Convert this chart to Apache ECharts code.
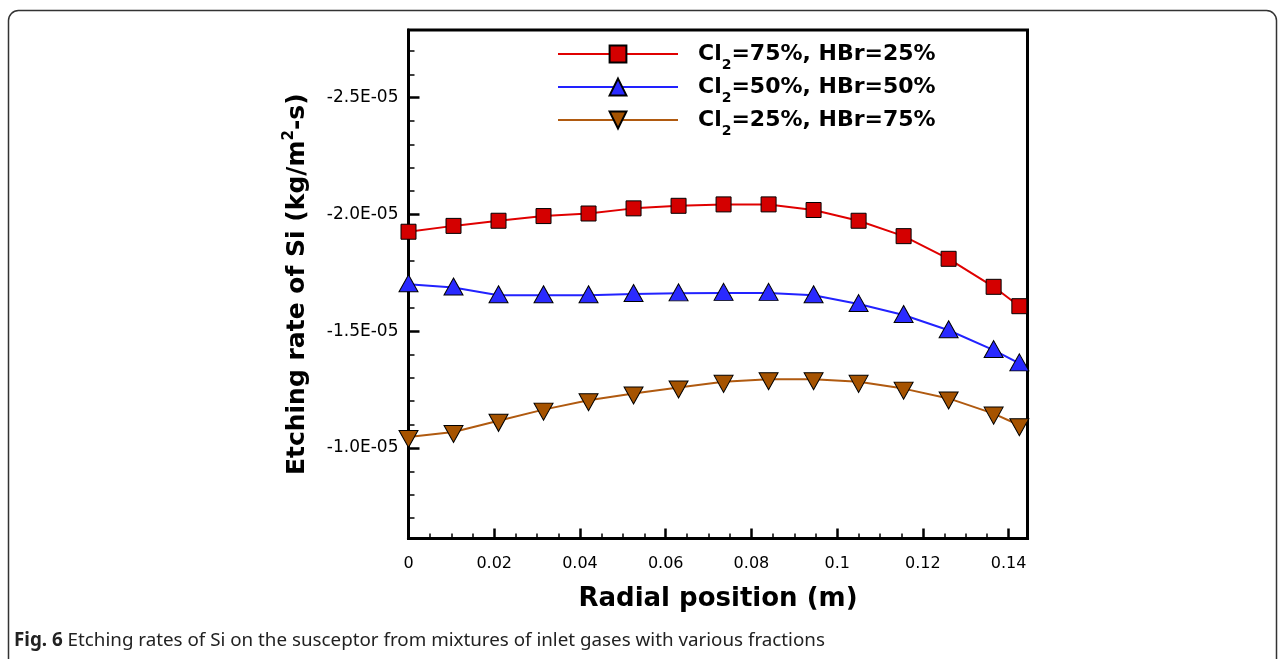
<!DOCTYPE html>
<html>
<head>
<meta charset="utf-8">
<script src="https://cdn.jsdelivr.net/npm/echarts@6/dist/echarts.min.js"></script>
<style>
  html, body { margin: 0; padding: 0; background: #fff; }
  #chart { width: 1285px; height: 659px; }
</style>
</head>
<body>
<div id="chart"></div>
<script>
// Radial positions on the susceptor (m)
const radialPosition = [0, 0.0105, 0.021, 0.0315, 0.042, 0.0525, 0.063, 0.0735, 0.084, 0.0945, 0.105, 0.1155, 0.126, 0.1365, 0.1425];

// Series names (Cl2 fraction / HBr fraction of the inlet gas)
const seriesNames = ['Cl2=75%, HBr=25%', 'Cl2=50%, HBr=50%', 'Cl2=25%, HBr=75%'];

// Etching rate of Si (kg/m^2-s) for each gas mixture
const rateCl75 = [-1.926e-5, -1.951e-5, -1.973e-5, -1.993e-5, -2.004e-5, -2.026e-5, -2.037e-5, -2.043e-5, -2.043e-5, -2.019e-5, -1.973e-5, -1.907e-5, -1.810e-5, -1.690e-5, -1.607e-5];
const rateCl50 = [-1.701e-5, -1.687e-5, -1.654e-5, -1.654e-5, -1.654e-5, -1.659e-5, -1.662e-5, -1.664e-5, -1.664e-5, -1.654e-5, -1.616e-5, -1.569e-5, -1.504e-5, -1.419e-5, -1.362e-5];
const rateCl25 = [-1.047e-5, -1.068e-5, -1.116e-5, -1.164e-5, -1.204e-5, -1.233e-5, -1.259e-5, -1.283e-5, -1.294e-5, -1.294e-5, -1.283e-5, -1.254e-5, -1.212e-5, -1.147e-5, -1.097e-5];

// Axis ticks and their labels
const yTickValues = [-2.5e-5, -2.0e-5, -1.5e-5, -1.0e-5];
const yTickLabels = ['-2.5E-05', '-2.0E-05', '-1.5E-05', '-1.0E-05'];
const xTickValues = [0, 0.02, 0.04, 0.06, 0.08, 0.1, 0.12, 0.14];
const xTickLabels = ['0', '0.02', '0.04', '0.06', '0.08', '0.1', '0.12', '0.14'];

const yMin = -2.79e-5, yMax = -6.12e-6;
const xMin = 0, xMax = 0.1444;

// minor ticks: every 1E-06 on y, every 0.005 on x (skipping the major ones)
const yMinorTicks = [];
for (let k = -27; k <= -7; k++) { if (k % 5 !== 0) yMinorTicks.push(k * 1e-6); }
const xMinorTicks = [];
for (let k = 1; k <= 28; k++) { if (k % 4 !== 0) xMinorTicks.push(k * 0.005); }

function lookupLabel(values, labels, v) {
  for (let i = 0; i < values.length; i++) {
    if (Math.abs(values[i] - v) < Math.abs(values[1] - values[0]) * 1e-3) return labels[i];
  }
  return '';
}

function pairs(ys) { return radialPosition.map((x, i) => [x, ys[i]]); }

const FONT = 'DejaVu Sans';

const chart = echarts.init(document.getElementById('chart'), null, { renderer: 'canvas' });

chart.setOption({
  animation: false,
  backgroundColor: '#fff',
  grid: {
    left: 408.5, top: 30, width: 619, height: 508.5,
    show: true, borderColor: '#000', borderWidth: 3, backgroundColor: 'transparent'
  },
  xAxis: [
    {
      type: 'value', min: xMin, max: xMax, position: 'bottom',
      axisLine: { show: true, onZero: false, lineStyle: { color: '#000', width: 3 } },
      axisTick: { show: true, inside: true, length: 10, customValues: xTickValues, lineStyle: { color: '#000', width: 2.5 } },
      axisLabel: {
        show: true, customValues: xTickValues, margin: 17,
        formatter: v => lookupLabel(xTickValues, xTickLabels, v),
        fontFamily: FONT, fontSize: 16, color: '#000'
      },
      splitLine: { show: false },
      name: 'Radial position (m)', nameLocation: 'middle', nameGap: 48,
      nameTextStyle: { fontFamily: FONT, fontWeight: 'bold', fontSize: 26, color: '#000' }
    },
    {
      type: 'value', min: xMin, max: xMax, position: 'bottom',
      axisLine: { show: false, onZero: false },
      axisTick: { show: true, inside: true, length: 5, customValues: xMinorTicks, lineStyle: { color: '#000', width: 1.5 } },
      axisLabel: { show: false },
      splitLine: { show: false }
    }
  ],
  yAxis: [
    {
      type: 'value', inverse: true, min: yMin, max: yMax, position: 'left',
      axisLine: { show: true, onZero: false, lineStyle: { color: '#000', width: 3 } },
      axisTick: { show: true, inside: true, length: 11, customValues: yTickValues, lineStyle: { color: '#000', width: 2.5 } },
      axisLabel: {
        show: true, customValues: yTickValues, margin: 10,
        formatter: v => lookupLabel(yTickValues, yTickLabels, v),
        fontFamily: FONT, fontSize: 17, color: '#000'
      },
      splitLine: { show: false },
      name: 'Etching rate of Si (kg/m{sup|2}-s)', nameLocation: 'middle', nameRotate: 90, nameGap: 96,
      nameTextStyle: {
        fontFamily: FONT, fontWeight: 'bold', fontSize: 25, color: '#000', lineHeight: 30,
        rich: { sup: { fontFamily: FONT, fontWeight: 'bold', fontSize: 15, color: '#000', lineHeight: 20, padding: [0, 0, 16, 0] } }
      }
    },
    {
      type: 'value', inverse: true, min: yMin, max: yMax, position: 'left', offset: 0,
      axisLine: { show: false, onZero: false },
      axisTick: { show: true, inside: true, length: 6, customValues: yMinorTicks, lineStyle: { color: '#000', width: 1.5 } },
      axisLabel: { show: false },
      splitLine: { show: false }
    }
  ],
  legend: {
    orient: 'vertical', left: 557, top: 36, padding: 0,
    itemWidth: 120, itemHeight: 21, itemGap: -3,
    selectedMode: false,
    data: seriesNames,
    formatter: name => name.replace('Cl2', 'Cl{sub|2}'),
    textStyle: {
      fontFamily: FONT, fontWeight: 'bold', fontSize: 22, lineHeight: 26, color: '#000',
      padding: [0, 0, 0, 15],
      rich: { sub: { fontFamily: FONT, fontWeight: 'bold', fontSize: 14, color: '#000', lineHeight: 20, padding: [22, 0, 0, 0] } }
    }
  },
  series: [
    {
      name: seriesNames[0], type: 'line', data: pairs(rateCl75), clip: false,
      symbol: 'rect', symbolSize: 15,
      itemStyle: { color: '#d40000', borderColor: '#000', borderWidth: 1 },
      lineStyle: { color: '#e00000', width: 2 },
      emphasis: { disabled: true }, z: 4
    },
    {
      name: seriesNames[1], type: 'line', data: pairs(rateCl50), clip: false,
      symbol: 'triangle', symbolSize: [19, 17], symbolOffset: [0, -1],
      itemStyle: { color: '#2a2aff', borderColor: '#000', borderWidth: 1 },
      lineStyle: { color: '#2222ff', width: 2 },
      emphasis: { disabled: true }, z: 3
    },
    {
      name: seriesNames[2], type: 'line', data: pairs(rateCl25), clip: false,
      symbol: 'path://M0,0L20,0L10,17Z', symbolSize: [19, 17], symbolOffset: [0, 2],
      itemStyle: { color: '#a65300', borderColor: '#000', borderWidth: 1 },
      lineStyle: { color: '#b05a10', width: 2 },
      emphasis: { disabled: true }, z: 2
    }
  ],
  graphic: [
    {
      type: 'rect', silent: true, z: -1,
      shape: { x: 8.5, y: 10.5, width: 1268, height: 662, r: 10 },
      style: { fill: 'none', stroke: '#333', lineWidth: 1.5 }
    },
    {
      type: 'text', silent: true, x: 14, y: 641,
      style: {
        text: '{b|Fig. 6} Etching rates of Si on the susceptor from mixtures of inlet gases with various fractions',
        fontFamily: 'Noto Sans', fontSize: 18.8, fill: '#222', verticalAlign: 'middle',
        rich: { b: { fontFamily: 'Noto Sans', fontWeight: 'bold', fontSize: 18.8, fill: '#222' } }
      }
    }
  ]
});
</script>
</body>
</html>
